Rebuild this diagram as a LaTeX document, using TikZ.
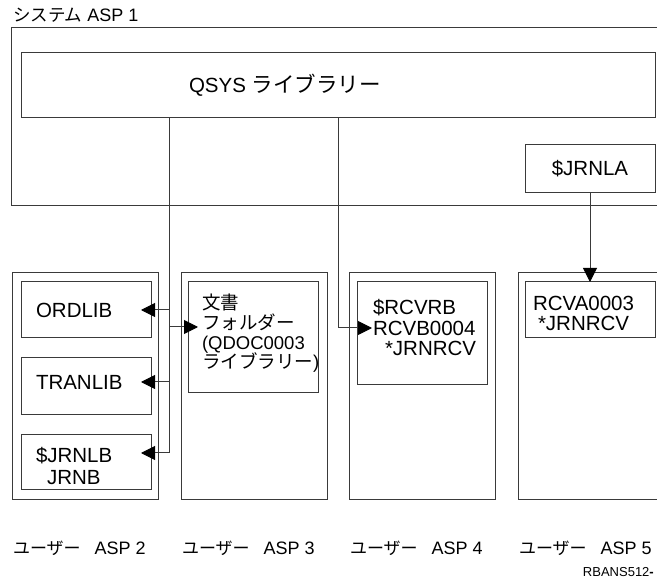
\documentclass[tikz,border=0pt]{standalone}
\usepackage{fontspec}
\setmainfont{Liberation Sans}
\newfontfamily\jp{Noto Sans CJK JP}
\usetikzlibrary{arrows.meta}
\newcommand\fs[1]{\fontsize{#1}{#1}\selectfont}
\definecolor{linec}{HTML}{3A3A3A}
\tikzset{
  box/.style={draw=linec, line width=1pt, inner sep=0pt, outer sep=0pt, anchor=north west},
  conn/.style={draw=linec, line width=1pt, -{Triangle[length=14pt,width=14pt,color=black]}},
  lbl/.style={inner sep=0pt, outer sep=0pt, anchor=base west, font=\fs{20.5}},
  small/.style={inner sep=0pt, outer sep=0pt, anchor=base west, font=\fs{18.5}},
  caption/.style={inner sep=0pt, outer sep=0pt, anchor=base west, font=\fs{18}},
}
\begin{document}
\begin{tikzpicture}[x=1pt,y=-1pt]
\clip (0,0) rectangle (657,585);
\fill[white] (0,0) rectangle (657,585);

% system ASP 1
\node[caption] (tSys) at (13,22) {{\jp\fs{17.5}システム} ASP 1};
\node[box, minimum width=700, minimum height=178] (sys) at (11,28) {};
\node[box, minimum width=634, minimum height=65] (qsys) at (21,53) {};
\node[lbl] (tQsys) at (189,93) {QSYS {\jp\fs{21.5}ライブラリー}};
\node[box, minimum width=130, minimum height=48, font=\fs{20.5}] (jrnla) at (525,145) {\$JRNLA};

% user ASP 2
\node[box, minimum width=146, minimum height=227] (asp2) at (12,273) {};
\node[box, minimum width=130, minimum height=56] (ordlib) at (21,282) {};
\node[lbl] (tOrd) at (36,317.5) {ORDLIB};
\node[box, minimum width=130, minimum height=57] (tranlib) at (21,358) {};
\node[lbl] (tTran) at (36,389.5) {TRANLIB};
\node[box, minimum width=130, minimum height=55] (jrnlb) at (21,435) {};
\node[lbl] (tJb1) at (36,462.5) {\$JRNLB};
\node[lbl] (tJb2) at (47,484.5) {JRNB};

% user ASP 3
\node[box, minimum width=146, minimum height=227] (asp3) at (181,273) {};
\node[box, minimum width=130, minimum height=111] (doc) at (188,282) {};
\node[small] (tDoc1) at (202,309.5) {\jp 文書};
\node[small] (tDoc2) at (202,329.5) {\jp フォルダー};
\node[small] (tDoc3) at (202,349.5) {(QDOC0003};
\node[small] (tDoc4) at (202,368.5) {{\jp ライブラリー})};

% user ASP 4
\node[box, minimum width=146, minimum height=227] (asp4) at (349,273) {};
\node[box, minimum width=130, minimum height=103] (rcvb) at (357,282) {};
\node[lbl] (tRc1) at (373,314.5) {\$RCVRB};
\node[lbl] (tRc2) at (373,335.5) {RCVB0004};
\node[lbl] (tRc3) at (385,355.5) {*JRNRCV};

% user ASP 5
\node[box, minimum width=200, minimum height=227] (asp5) at (518,273) {};
\node[box, minimum width=130, minimum height=56] (rcva) at (525,282) {};
\node[lbl] (tRa1) at (533,310.5) {RCVA0003};
\node[lbl] (tRa2) at (538,330.5) {*JRNRCV};

% captions
\node[caption] (lab2) at (13,555) {{\jp\fs{17}ユーザー}\hspace{14pt}ASP 2};
\node[caption] (lab3) at (182,555) {{\jp\fs{17}ユーザー}\hspace{14pt}ASP 3};
\node[caption] (lab4) at (350,555) {{\jp\fs{17}ユーザー}\hspace{14pt}ASP 4};
\node[caption] (lab5) at (519,555) {{\jp\fs{17}ユーザー}\hspace{14pt}ASP 5};
\node[inner sep=0pt, anchor=base east, font=\fs{13}] (tCode) at (654,577) {RBANS512{\bfseries -}};

% connectors
\coordinate (t1) at (169,0);
\coordinate (t2) at (338,0);
\coordinate (pOrd) at ([xshift=-10pt]ordlib.east);
\coordinate (pTr) at ([shift={(-10,-4.5)}]tranlib.east);
\coordinate (pJb) at ([shift={(-10,-9.5)}]jrnlb.east);
\coordinate (pDoc) at ([shift={(10,-10.5)}]doc.west);
\coordinate (pRcv) at ([shift={(15,-5.5)}]rcvb.west);

\draw[conn] (qsys.south -| t1) |- (pJb);
\draw[conn] (t1 |- pOrd) -- (pOrd);
\draw[conn] (t1 |- pTr) -- (pTr);
\draw[conn] (t1 |- pDoc) -- (pDoc);
\draw[conn] (qsys.south -| t2) |- (pRcv);
\draw[conn] (jrnla.south) -- (jrnla.south |- rcva.north);
\end{tikzpicture}
\end{document}
